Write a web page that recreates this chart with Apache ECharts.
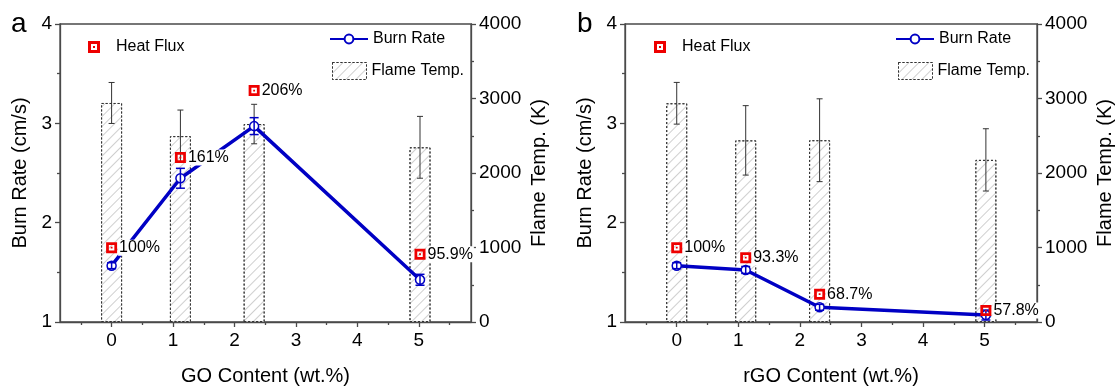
<!DOCTYPE html>
<html>
<head>
<meta charset="utf-8">
<script src="https://cdn.jsdelivr.net/npm/echarts@6/dist/echarts.min.js"></script>
<style>
html,body{margin:0;padding:0;background:#fff;}
#chart{width:1118px;height:391px;}
</style>
</head>
<body>
<div id="chart"></div>
<script>
// ---- data ----
const goContent = [0, 1.12, 2.32, 5.02];
const goBurnRate = [1.567, 2.447, 2.972, 1.425];
const goBurnErr = [0.03, 0.1, 0.085, 0.055];
const goFlameTemp = [2940, 2495, 2657, 2345];
const goFlameErr = [275, 350, 265, 415];
const goHeatFlux = [1.748, 2.655, 3.33, 1.682];
const goHeatLabels = ['100%', '161%', '206%', '95.9%'];

const rgoContent = [0, 1.12, 2.32, 5.02];
const rgoBurnRate = [1.567, 1.524, 1.148, 1.07];
const rgoBurnErr = [0.03, 0.035, 0.03, 0.05];
const rgoFlameTemp = [2936, 2438, 2440, 2176];
const rgoFlameErr = [280, 466, 556, 418];
const rgoHeatFlux = [1.748, 1.648, 1.28, 1.115];
const rgoHeatLabels = ['100%', '93.3%', '68.7%', '57.8%'];

const xTickValues = [0, 1, 2, 3, 4, 5];
const xMinorTickValues = [-0.5, 0.5, 1.5, 2.5, 3.5, 4.5, 5.5];
const panelLetters = ['a', 'b'];
const xTitles = ['GO Content (wt.%)', 'rGO Content (wt.%)'];

// ---- styling ----
const FONT = '"Liberation Sans", Arial, sans-serif';
const AX = '#4a4a4a';
const BLUE = '#0000c4';
const RED = '#ee0000';
const TXT = '#000';
const HEAT_SYMBOL = 'path://M0 0H12V12H0Z M3 3V9H9V3Z M5 5H7V7H5Z';

function errorBarRenderer(color, lw, capHalf) {
  return function (params, api) {
    const x = api.value(0), lo = api.value(1), hi = api.value(2);
    const pLo = api.coord([x, lo]);
    const pHi = api.coord([x, hi]);
    const st = { stroke: color, lineWidth: lw };
    return {
      type: 'group',
      children: [
        { type: 'line', shape: { x1: pHi[0], y1: pHi[1], x2: pLo[0], y2: pLo[1] }, style: st },
        { type: 'line', shape: { x1: pHi[0] - capHalf, y1: pHi[1], x2: pHi[0] + capHalf, y2: pHi[1] }, style: st },
        { type: 'line', shape: { x1: pLo[0] - capHalf, y1: pLo[1], x2: pLo[0] + capHalf, y2: pLo[1] }, style: st }
      ]
    };
  };
}

const grids = [
  { left: 60, right: 647, top: 24, bottom: 64, show: true, borderColor: AX, borderWidth: 1.3, backgroundColor: 'transparent' },
  { left: 625, right: 81, top: 24, bottom: 64, show: true, borderColor: AX, borderWidth: 1.3, backgroundColor: 'transparent' }
];

const xAxes = [];
const yAxes = [];
[0, 1].forEach(function (g) {
  xAxes.push({
    type: 'value', gridIndex: g, min: -0.84, max: 5.85, position: 'bottom',
    name: xTitles[g], nameLocation: 'middle', nameGap: 44,
    nameTextStyle: { fontSize: 20, color: TXT, fontFamily: FONT },
    axisLine: { show: true, onZero: false, lineStyle: { color: AX, width: 1.3 } },
    axisTick: { show: true, inside: false, length: 5, customValues: xTickValues, lineStyle: { color: AX, width: 1.3 } },
    axisLabel: { show: true, customValues: xTickValues, fontSize: 19, color: TXT, margin: 9, fontFamily: FONT },
    splitLine: { show: false }
  });
  xAxes.push({
    type: 'value', gridIndex: g, min: -0.84, max: 5.85, position: 'bottom',
    axisLine: { show: false, onZero: false },
    axisTick: { show: true, inside: false, length: 3, customValues: xMinorTickValues, lineStyle: { color: AX, width: 1.3 } },
    axisLabel: { show: false },
    splitLine: { show: false }
  });
  yAxes.push({
    type: 'value', gridIndex: g, position: 'left', min: 1, max: 4, interval: 1,
    name: 'Burn Rate (cm/s)', nameLocation: 'middle', nameGap: 30, nameRotate: 90,
    nameTextStyle: { fontSize: 20, color: TXT, fontFamily: FONT },
    axisLine: { show: true, onZero: false, lineStyle: { color: AX, width: 1.3 } },
    axisTick: { show: true, inside: false, length: 5, lineStyle: { color: AX, width: 1.3 } },
    minorTick: { show: true, splitNumber: 2, length: 3, lineStyle: { color: AX, width: 1.3 } },
    axisLabel: { fontSize: 19, color: TXT, margin: 8, fontFamily: FONT },
    splitLine: { show: false }, minorSplitLine: { show: false }
  });
  yAxes.push({
    type: 'value', gridIndex: g, position: 'right', min: 0, max: 4000, interval: 1000,
    name: 'Flame Temp. (K)', nameLocation: 'middle', nameGap: 58, nameRotate: 90,
    nameTextStyle: { fontSize: 20, color: TXT, fontFamily: FONT },
    axisLine: { show: true, onZero: false, lineStyle: { color: AX, width: 1.3 } },
    axisTick: { show: true, inside: false, length: 5, lineStyle: { color: AX, width: 1.3 } },
    minorTick: { show: true, splitNumber: 2, length: 3, lineStyle: { color: AX, width: 1.3 } },
    axisLabel: { fontSize: 19, color: TXT, margin: 8, fontFamily: FONT,
      formatter: function (v) { return String(v); } },
    splitLine: { show: false }, minorSplitLine: { show: false }
  });
});

function panelSeries(g, content, burn, burnErr, flame, flameErr, heat, heatLabels) {
  const xi = g * 2, yl = g * 2, yr = g * 2 + 1;
  return [
    {
      name: 'Flame Temp.', type: 'bar', xAxisIndex: xi, yAxisIndex: yr, z: 1,
      barWidth: 21,
      itemStyle: {
        color: '#ffffff', borderColor: '#333', borderWidth: 1, borderType: [2, 2],
        decal: { symbol: 'rect', symbolSize: 1, color: '#cfcfcf', dashArrayX: [1, 0], dashArrayY: [1, 6], rotation: -Math.PI / 4 }
      },
      data: content.map(function (x, i) { return [x, flame[i]]; })
    },
    {
      name: 'flameErr', type: 'custom', xAxisIndex: xi, yAxisIndex: yr, z: 2,
      renderItem: errorBarRenderer('#333', 1, 3),
      encode: { x: 0, y: [1, 2] },
      data: content.map(function (x, i) { return [x, flame[i] - flameErr[i], flame[i] + flameErr[i]]; })
    },
    {
      name: 'Burn Rate', type: 'line', xAxisIndex: xi, yAxisIndex: yl, z: 3,
      symbol: 'circle', symbolSize: 9,
      lineStyle: { color: BLUE, width: 3.5 },
      itemStyle: { color: '#ffffff', borderColor: BLUE, borderWidth: 1.5 },
      data: content.map(function (x, i) { return [x, burn[i]]; })
    },
    {
      name: 'burnErr', type: 'custom', xAxisIndex: xi, yAxisIndex: yl, z: 4,
      renderItem: errorBarRenderer(BLUE, 1.5, 4.5),
      encode: { x: 0, y: [1, 2] },
      data: content.map(function (x, i) { return [x, burn[i] - burnErr[i], burn[i] + burnErr[i]]; })
    },
    {
      name: 'Heat Flux', type: 'scatter', xAxisIndex: xi, yAxisIndex: yl, z: 5,
      symbol: HEAT_SYMBOL, symbolSize: 11,
      itemStyle: { color: RED, opacity: 1 },
      label: {
        show: true, position: 'right', distance: 1,
        formatter: function (p) { return heatLabels[p.dataIndex]; },
        fontSize: 16, color: TXT, fontFamily: FONT,
        backgroundColor: '#ffffff', padding: [0, 1, 0, 1]
      },
      data: content.map(function (x, i) { return [x, heat[i]]; })
    }
  ];
}

function panelLegends(dx) {
  const ts = { fontSize: 16, color: TXT, fontFamily: FONT };
  return [
    { data: ['Heat Flux'], left: 88 + dx, top: 39, padding: 0, itemWidth: 12, itemHeight: 12,
      selectedMode: false, textStyle: Object.assign({ padding: [0, 0, 0, 11] }, ts) },
    { data: ['Burn Rate'], left: 329 + dx, top: 31, padding: 0, itemWidth: 38, itemHeight: 11,
      selectedMode: false, textStyle: ts },
    { data: [{ name: 'Flame Temp.', icon: 'rect', itemStyle: { borderType: [2, 2], borderColor: '#333', borderWidth: 1 } }],
      left: 332 + dx, top: 62, padding: 0, itemWidth: 34, itemHeight: 17,
      selectedMode: false, textStyle: ts }
  ];
}

const option = {
  animation: false,
  backgroundColor: '#ffffff',
  grid: grids,
  xAxis: xAxes,
  yAxis: yAxes,
  legend: panelLegends(0).concat(panelLegends(566)),
  graphic: [
    { type: 'text', left: 11, top: 10, style: { text: panelLetters[0], font: '28px ' + FONT, fill: TXT } },
    { type: 'text', left: 577, top: 10, style: { text: panelLetters[1], font: '28px ' + FONT, fill: TXT } }
  ],
  series: panelSeries(0, goContent, goBurnRate, goBurnErr, goFlameTemp, goFlameErr, goHeatFlux, goHeatLabels)
    .concat(panelSeries(1, rgoContent, rgoBurnRate, rgoBurnErr, rgoFlameTemp, rgoFlameErr, rgoHeatFlux, rgoHeatLabels))
};

const chart = echarts.init(document.getElementById('chart'), null, { renderer: 'canvas' });
chart.setOption(option);
</script>
</body>
</html>
